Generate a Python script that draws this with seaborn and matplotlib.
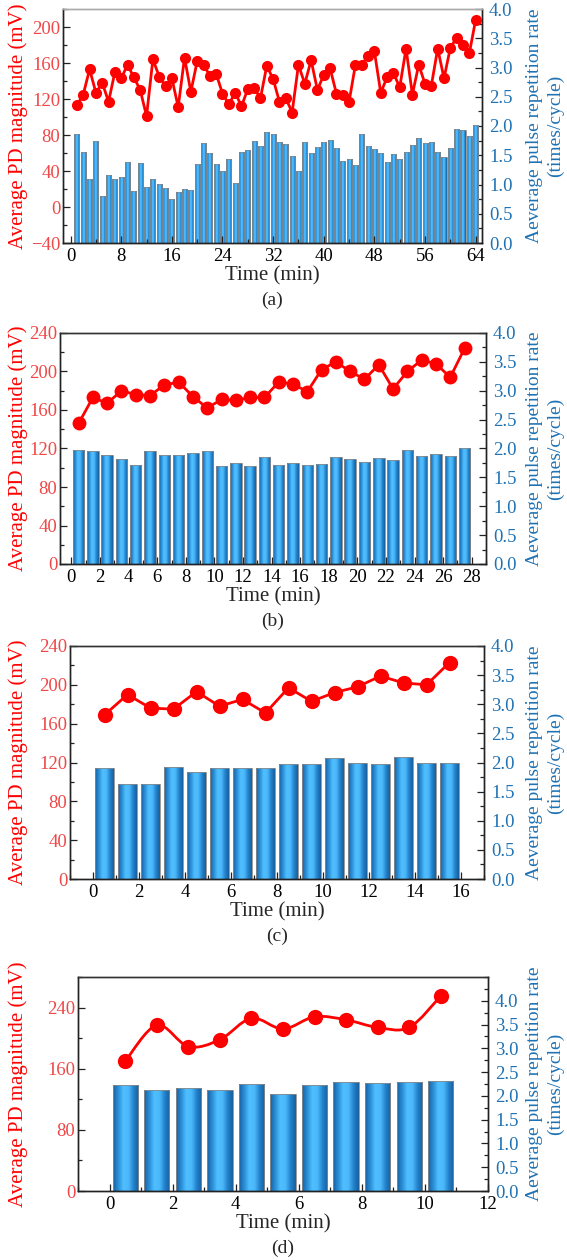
import numpy as np
import matplotlib
matplotlib.use("Agg")
import matplotlib.pyplot as plt
import seaborn as sns
from matplotlib.colors import LinearSegmentedColormap
from matplotlib.path import Path
from matplotlib.patches import PathPatch
from matplotlib.ticker import MultipleLocator, FormatStrFormatter

# ---- data ----
# (a) 64 one-minute records
t_a = np.arange(1, 65)
pd_a = [113, 125, 153, 127, 138, 117, 150, 143, 158, 144, 130, 101, 164, 145, 134, 143,
        111, 166, 128, 162, 158, 146, 148, 126, 114, 127, 112, 131, 132, 121, 157, 142,
        117, 121, 105, 158, 137, 163, 130, 147, 154, 126, 125, 117, 158, 158, 168, 173,
        127, 144, 149, 133, 176, 125, 158, 137, 135, 176, 143, 177, 188, 180, 171, 208]
rate_a = [1.86, 1.56, 1.10, 1.75, 0.81, 1.17, 1.10, 1.13, 1.38, 0.89, 1.36, 0.96, 1.10, 1.01, 0.94, 0.75,
          0.88, 0.93, 0.91, 1.35, 1.71, 1.54, 1.35, 1.23, 1.44, 1.03, 1.56, 1.59, 1.75, 1.66, 1.89, 1.86,
          1.73, 1.69, 1.48, 1.23, 1.73, 1.54, 1.64, 1.73, 1.76, 1.63, 1.41, 1.43, 1.33, 1.86, 1.66, 1.61,
          1.54, 1.38, 1.52, 1.43, 1.56, 1.68, 1.80, 1.71, 1.73, 1.56, 1.47, 1.63, 1.95, 1.93, 1.83, 2.01]

# (b) 28 records
t_b = np.arange(28) + 0.5
pd_b = [146, 173, 167, 180, 176, 175, 186, 189, 174, 162, 171, 170, 173, 173,
        189, 187, 179, 202, 210, 200, 192, 207, 182, 200, 212, 208, 194, 224]
rate_b = [1.97, 1.95, 1.88, 1.82, 1.71, 1.95, 1.88, 1.88, 1.92, 1.95, 1.69, 1.75, 1.70, 1.86,
          1.71, 1.75, 1.71, 1.73, 1.85, 1.82, 1.77, 1.84, 1.80, 1.97, 1.87, 1.90, 1.87, 2.01]

# (c) 16 records
t_c = np.arange(16) + 0.5
pd_c = [169, 190, 176, 175, 193, 178, 185, 171, 197, 183, 192, 198, 209, 202, 200, 223]
rate_c = [1.91, 1.63, 1.63, 1.93, 1.83, 1.90, 1.90, 1.91, 1.97, 1.97, 2.07, 2.00, 1.98, 2.10, 2.00, 2.00]

# (d) 11 records
t_d = np.arange(11) + 0.5
pd_d = [170, 217, 189, 198, 226, 212, 228, 224, 214, 214, 255]
rate_d = [2.22, 2.13, 2.17, 2.13, 2.26, 2.03, 2.22, 2.30, 2.28, 2.30, 2.31]

RED = "#ff0000"
RED_T = "#f04848"
BLUE_T = "#1f72b3"
bar_cmap = LinearSegmentedColormap.from_list(
    "cyl", ["#1561a3", "#2b8fd6", "#4fbfff", "#4cb8fb", "#2283cc", "#1a5f9c"])

sns.set_theme(style="ticks")
plt.rcParams["font.family"] = ["Liberation Serif", "DejaVu Serif"]

W, H = 567, 1260
fig = plt.figure(figsize=(W / 100, H / 100), dpi=100)


def px_axes(x0, x1, y0, y1):
    return fig.add_axes([x0 / W, 1 - y1 / H, (x1 - x0) / W, (y1 - y0) / H])


def smooth_path(x, y):
    # Catmull-Rom style curve through the measured points (drawing style only)
    pts = np.column_stack([x, y]).astype(float)
    n = len(pts)
    verts = [pts[0]]
    codes = [Path.MOVETO]
    for i in range(n - 1):
        p0 = pts[i - 1] if i > 0 else pts[i]
        p1 = pts[i]
        p2 = pts[i + 1]
        p3 = pts[i + 2] if i + 2 < n else pts[i + 1]
        verts += [p1 + (p2 - p0) / 6, p2 - (p3 - p1) / 6, p2]
        codes += [Path.CURVE4] * 3
    return Path(verts, codes)


def panel(box, t, pdv, rate, ylim, ymaj, xlim, xmaj, xmin, ms, letter, rlim=(0, 4.0),
          smooth=False, top_col="#333333"):
    ax = px_axes(*box)
    ax2 = ax.twinx()

    sns.barplot(x=t, y=rate, native_scale=True, orient="x", width=0.8, color="#3aa6ee",
                edgecolor="#8a8a8a", linewidth=0.6, errorbar=None, ax=ax2)
    ax2.set_ylim(*rlim)
    for p in ax2.patches:
        bx, by = p.get_x(), p.get_y()
        bw, bh = p.get_width(), p.get_height()
        im = ax2.imshow(np.linspace(0, 1, 64)[None, :], cmap=bar_cmap, aspect="auto",
                        extent=(bx, bx + bw, by, by + bh), zorder=p.get_zorder() + 0.1,
                        interpolation="bilinear")
        im.set_clip_path(p)
        p.set_facecolor("none")
        p.set_zorder(p.get_zorder() + 0.2)

    if smooth:
        sns.lineplot(x=t, y=pdv, ax=ax, color=RED, linewidth=0, marker="o",
                     markersize=ms, markeredgewidth=0, zorder=5)
        ax.add_patch(PathPatch(smooth_path(t, pdv), fill=False, edgecolor=RED, lw=2, zorder=4))
    else:
        sns.lineplot(x=t, y=pdv, ax=ax, color=RED, linewidth=2, marker="o",
                     markersize=ms, markeredgewidth=0, zorder=5)

    ax.set_zorder(ax2.get_zorder() + 1)
    ax.patch.set_visible(False)

    ax.set_ylim(*ylim)
    ax.set_xlim(*xlim)
    ax.yaxis.set_minor_locator(MultipleLocator(ymaj / 2))
    ax.set_yticks(np.arange(ylim[0], ylim[1] + 0.1, ymaj))
    ax.xaxis.set_minor_locator(MultipleLocator(xmin))
    ax.set_xticks(np.arange(0, xlim[1] + 0.01, xmaj))
    ax2.set_yticks(np.arange(0, 4.01, 0.5))
    ax2.yaxis.set_minor_locator(MultipleLocator(0.25))
    ax2.yaxis.set_major_formatter(FormatStrFormatter("%.1f"))
    ax2.set_ylim(*rlim)
    ax.set_ylim(*ylim)

    for a in (ax, ax2):
        a.tick_params(which="both", direction="in", width=0.9, color="#222222")
        a.tick_params(which="major", length=5)
        a.tick_params(which="minor", length=3)
        for s in a.spines.values():
            s.set_linewidth(1.0)
            s.set_color("#222222")
        a.spines["top"].set_color(top_col)
    ax.tick_params(axis="y", labelcolor=RED_T, labelsize=13.5, pad=2)
    ax.tick_params(axis="x", labelcolor="black", labelsize=13.5, pad=3.5)
    ax2.tick_params(axis="y", labelcolor=BLUE_T, labelsize=13.5, pad=5)
    ax2.set_xlabel("")
    ax2.set_ylabel("")
    ax.set_xlabel("")
    ax.set_ylabel("")

    x0, x1, y0, y1 = box
    fig.text(18 / W, 1 - (y0 + y1) / 2 / H, "Average PD magnitude (mV)", rotation=90,
             ha="center", va="center", color=RED, fontsize=15)
    fig.text(545 / W, 1 - (y0 + y1) / 2 / H, "Aeverage pulse repetition rate\n(times/cycle)",
             rotation=90, ha="center", va="center", multialignment="center",
             color=BLUE_T, fontsize=14, linespacing=1.3)
    fig.text((x0 + x1) / 2 / W, 1 - (y1 + 33) / H, "Time (min)", ha="center", va="center",
             fontsize=15)
    fig.text((x0 + x1) / 2 / W, 1 - (y1 + 57) / H, letter, ha="center", va="center",
             fontsize=14)
    return ax, ax2


panel((63, 482, 9, 243), t_a, pd_a, rate_a, (-40, 220), 40, (-1.2, 65), 8, 4, 8, "(a)",
      top_col="#aaaaaa")
panel((60, 486, 333, 564), t_b, pd_b, rate_b, (0, 240), 40, (-0.8, 29), 2, 1, 10, "(b)")
panel((70, 484, 646, 879), t_c, pd_c, rate_c, (0, 240), 40, (-1, 17), 2, 1, 11, "(c)")
panel((78, 488, 977, 1191), t_d, pd_d, rate_d, (0, 280), 80, (-1, 12), 2, 1, 11, "(d)",
      rlim=(0, 4.5), smooth=True)

fig.savefig("out.png", dpi=100)
